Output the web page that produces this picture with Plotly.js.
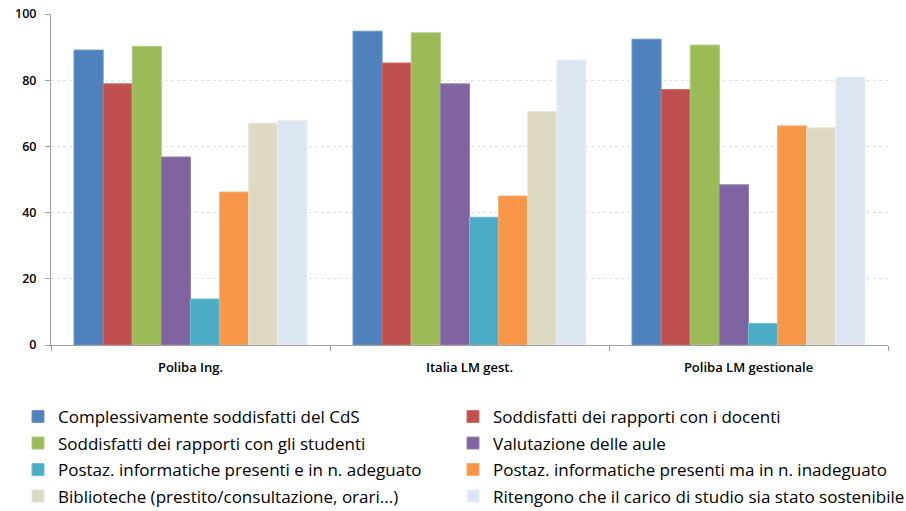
<!DOCTYPE html>
<html>
<head>
<meta charset="utf-8">
<script src="https://cdn.plot.ly/plotly-3.0.1.min.js"></script>
<style>html,body{margin:0;padding:0;background:#fff;}#chart{width:906px;height:511px;}</style>
</head>
<body>
<div id="chart"></div>
<script>
const categories = ["Poliba Ing.", "Italia LM gest.", "Poliba LM gestionale"];
const seriesNames = [
  "Complessivamente soddisfatti del CdS",
  "Soddisfatti dei rapporti con i docenti",
  "Soddisfatti dei rapporti con gli studenti",
  "Valutazione delle aule",
  "Postaz. informatiche presenti e in n. adeguato",
  "Postaz. informatiche presenti ma in n. inadeguato",
  "Biblioteche (prestito/consultazione, orari...)",
  "Ritengono che il carico di studio sia stato sostenibile"
];
const complessivamente = [89.1, 94.8, 92.4];
const docenti = [78.9, 85.2, 77.2];
const studenti = [90.2, 94.3, 90.6];
const aule = [56.8, 78.9, 48.4];
const postazAdeguato = [13.9, 38.6, 6.5];
const postazInadeguato = [46.2, 45.0, 66.2];
const biblioteche = [67.0, 70.5, 65.6];
const carico = [67.9, 86.1, 81.0];
const tickValues = [0, 20, 40, 60, 80, 100];

const seriesValues = [complessivamente, docenti, studenti, aule, postazAdeguato, postazInadeguato, biblioteche, carico];
const colors = ["#4F81BD", "#C0504D", "#9BBB59", "#8064A2", "#4BACC6", "#F79646", "#DDD9C3", "#DCE6F2"];
const edge = ["#6a95c9", "#cc6c69", "#b0cb7a", "#9580b3", "#6fbdd2", "#f9ab6c", "#e8e5d6", "#e8eef7"];

const tickFont = "'Open Sans', 'Liberation Sans', sans-serif";
const legendFont = "'Open Sans', 'Liberation Sans', sans-serif";

// plot area in pixels: top 14, bottom 345 -> paper height 331; left 51, width 837
const plotTop = 14, plotBottom = 345, plotLeft = 51, plotW = 837;
const rowY = [417, 443.5, 470, 496.5];
const colX = [18, 453];

const legendIds = ["legend", "legend2", "legend3", "legend4", "legend5", "legend6", "legend7", "legend8"];

const traces = seriesNames.map((name, i) => ({
  type: "bar",
  name: name,
  x: categories,
  y: seriesValues[i],
  legend: legendIds[i],
  marker: {color: colors[i], line: {color: edge[i], width: 1}},
  hoverinfo: "y+name"
}));

const layout = {
  width: 906, height: 511,
  margin: {l: plotLeft, r: 906 - plotLeft - plotW, t: plotTop, b: 511 - plotBottom, autoexpand: false},
  paper_bgcolor: "#ffffff",
  plot_bgcolor: "#ffffff",
  barmode: "group",
  bargap: 0.165,
  bargroupgap: 0,
  font: {family: tickFont, color: "#000000"},
  xaxis: {
    type: "category",
    showline: true, linecolor: "#a0a0a0", linewidth: 1,
    ticks: "outside", tickson: "boundaries", ticklen: 5, tickcolor: "#a0a0a0",
    showgrid: false,
    ticklabelstandoff: 10,
    tickfont: {family: tickFont, size: 13, color: "#000", weight: 600}
  },
  yaxis: {
    range: [0, 100],
    tickvals: tickValues,
    showline: true, linecolor: "#a0a0a0", linewidth: 1,
    ticks: "outside", ticklen: 5, tickcolor: "#a0a0a0",
    showgrid: true, gridcolor: "#e2e2e2", griddash: "dot", gridwidth: 1,
    zeroline: false,
    ticklabelstandoff: 6,
    tickfont: {family: tickFont, size: 12.5, color: "#000", weight: 600}
  },
  showlegend: true
};

legendIds.forEach((id, i) => {
  const row = Math.floor(i / 2), col = i % 2;
  layout[id] = {
    orientation: "h",
    x: (colX[col] - plotLeft) / plotW, xanchor: "left",
    y: (plotBottom - rowY[row]) / (plotBottom - plotTop), yanchor: "middle",
    font: {family: legendFont, size: 17, color: "#000"},
    bgcolor: "rgba(0,0,0,0)",
    itemwidth: 30
  };
});

Plotly.newPlot("chart", traces, layout, {displayModeBar: false, staticPlot: true});
</script>
</body>
</html>
